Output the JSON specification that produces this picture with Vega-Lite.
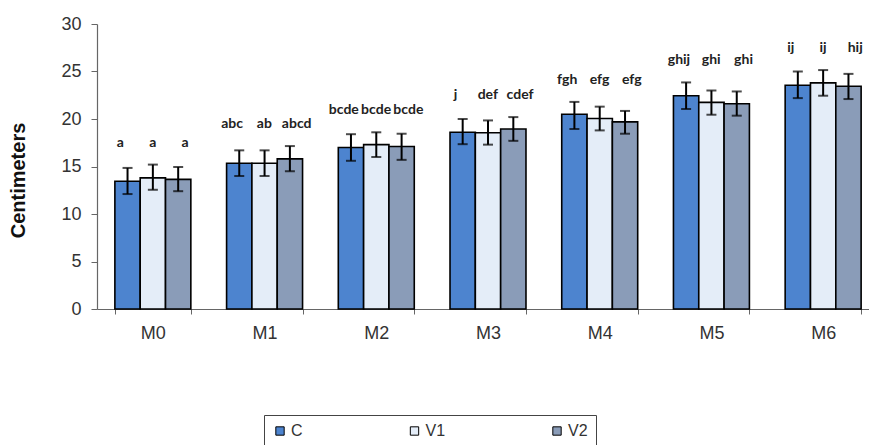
{
  "$schema": "https://vega.github.io/schema/vega-lite/v6.json",
  "width": 772,
  "height": 285,
  "autosize": "none",
  "padding": {"left": 97, "top": 24, "right": 0, "bottom": 136},
  "background": "white",
  "config": {
    "view": {"stroke": null},
    "font": "Liberation Sans",
    "axis": {"grid": false}
  },
  "data": {
    "values": [
      {"g": "M0", "s": "C", "v": 13.45, "lo": 12.1, "hi": 14.85, "letter": "a"},
      {"g": "M0", "s": "V1", "v": 13.8, "lo": 12.55, "hi": 15.2, "letter": "a"},
      {"g": "M0", "s": "V2", "v": 13.65, "lo": 12.4, "hi": 14.95, "letter": "a"},
      {"g": "M1", "s": "C", "v": 15.35, "lo": 14.0, "hi": 16.7, "letter": "abc"},
      {"g": "M1", "s": "V1", "v": 15.35, "lo": 14.0, "hi": 16.7, "letter": "ab"},
      {"g": "M1", "s": "V2", "v": 15.8, "lo": 14.5, "hi": 17.15, "letter": "abcd"},
      {"g": "M2", "s": "C", "v": 17.0, "lo": 15.6, "hi": 18.4, "letter": "bcde"},
      {"g": "M2", "s": "V1", "v": 17.3, "lo": 16.0, "hi": 18.6, "letter": "bcde"},
      {"g": "M2", "s": "V2", "v": 17.1, "lo": 15.7, "hi": 18.45, "letter": "bcde"},
      {"g": "M3", "s": "C", "v": 18.6, "lo": 17.35, "hi": 20.0, "letter": "j"},
      {"g": "M3", "s": "V1", "v": 18.55, "lo": 17.3, "hi": 19.85, "letter": "def"},
      {"g": "M3", "s": "V2", "v": 18.95, "lo": 17.7, "hi": 20.2, "letter": "cdef"},
      {"g": "M4", "s": "C", "v": 20.5, "lo": 18.95, "hi": 21.8, "letter": "fgh"},
      {"g": "M4", "s": "V1", "v": 20.05, "lo": 18.8, "hi": 21.3, "letter": "efg"},
      {"g": "M4", "s": "V2", "v": 19.7, "lo": 18.45, "hi": 20.85, "letter": "efg"},
      {"g": "M5", "s": "C", "v": 22.45, "lo": 21.05, "hi": 23.85, "letter": "ghij"},
      {"g": "M5", "s": "V1", "v": 21.75, "lo": 20.45, "hi": 23.0, "letter": "ghi"},
      {"g": "M5", "s": "V2", "v": 21.6, "lo": 20.35, "hi": 22.9, "letter": "ghi"},
      {"g": "M6", "s": "C", "v": 23.55, "lo": 22.2, "hi": 25.0, "letter": "ij"},
      {"g": "M6", "s": "V1", "v": 23.8, "lo": 22.45, "hi": 25.15, "letter": "ij"},
      {"g": "M6", "s": "V2", "v": 23.45, "lo": 22.1, "hi": 24.75, "letter": "hij"}
    ]
  },
  "encoding": {
    "x": {
      "field": "g",
      "type": "nominal",
      "sort": ["M0", "M1", "M2", "M3", "M4", "M5", "M6"],
      "scale": {"range": [0, 782], "paddingInner": 0.32, "paddingOuter": 0.16},
      "axis": {
        "title": null,
        "labelAngle": 0,
        "labelFontSize": 18,
        "labelColor": "#333333",
        "labelPadding": 10,
        "tickBand": "extent",
        "tickSize": 5,
        "tickColor": "#666666",
        "domainColor": "#666666",
        "domainWidth": 1.2
      }
    }
  },
  "resolve": {"scale": {"xOffset": "independent"}},
  "layer": [
    {
      "layer": [
        {
          "mark": {"type": "bar", "stroke": "black", "strokeWidth": 1.6},
          "encoding": {
            "xOffset": {"field": "s", "type": "nominal", "sort": ["C", "V1", "V2"]},
            "y": {
              "field": "v",
              "type": "quantitative",
              "scale": {"domain": [0, 30]},
              "axis": {
                "title": "Centimeters",
                "titleFontSize": 20,
                "titleFontWeight": "bold",
                "titleColor": "#111111",
                "titleX": -79,
                "titleY": 156,
                "titleBaseline": "middle",
                "titleAlign": "center",
                "titleAngle": -90,
                "values": [0, 5, 10, 15, 20, 25, 30],
                "labelFontSize": 18,
                "labelColor": "#333333",
                "labelPadding": 10,
                "tickSize": 6,
                "tickColor": "#666666",
                "domainColor": "#666666",
                "domainWidth": 1.2
              }
            },
            "color": {
              "field": "s",
              "type": "nominal",
              "scale": {"domain": ["C", "V1", "V2"], "range": ["#4d84cf", "#e4edf8", "#8a9cb8"]},
              "legend": {
                "title": null,
                "orient": "none",
                "direction": "horizontal",
                "legendX": 167,
                "legendY": 391,
                "padding": 8,
                "strokeColor": "#444444",
                "columnPadding": 103.5,
                "symbolType": "square",
                "symbolSize": 70,
                "symbolStrokeColor": "black",
                "symbolStrokeWidth": 1,
                "labelFontSize": 16,
                "labelColor": "#333333",
                "labelOffset": 3
              }
            }
          }
        },
        {
          "mark": {"type": "rule", "color": "black", "strokeWidth": 2},
          "encoding": {
            "xOffset": {"field": "s", "type": "nominal", "sort": ["C", "V1", "V2"]},
            "y": {"field": "lo", "type": "quantitative"},
            "y2": {"field": "hi"}
          }
        },
        {
          "mark": {"type": "tick", "color": "black", "size": 10, "thickness": 2},
          "encoding": {
            "xOffset": {"field": "s", "type": "nominal", "sort": ["C", "V1", "V2"]},
            "y": {"field": "lo", "type": "quantitative"}
          }
        },
        {
          "mark": {"type": "tick", "color": "black", "size": 10, "thickness": 2},
          "encoding": {
            "xOffset": {"field": "s", "type": "nominal", "sort": ["C", "V1", "V2"]},
            "y": {"field": "hi", "type": "quantitative"}
          }
        }
      ]
    },
    {
      "transform": [{"joinaggregate": [{"op": "max", "field": "hi", "as": "gmax"}], "groupby": ["g"]}],
      "mark": {"type": "text", "font": "Lato", "fontWeight": "bold", "fontSize": 14, "color": "#222222", "dy": -22, "baseline": "middle"},
      "encoding": {
        "xOffset": {"field": "s", "type": "nominal", "sort": ["C", "V1", "V2"], "scale": {"range": [-10.6, 86.2]}},
        "y": {"field": "gmax", "type": "quantitative"},
        "text": {"field": "letter"}
      }
    }
  ]
}
